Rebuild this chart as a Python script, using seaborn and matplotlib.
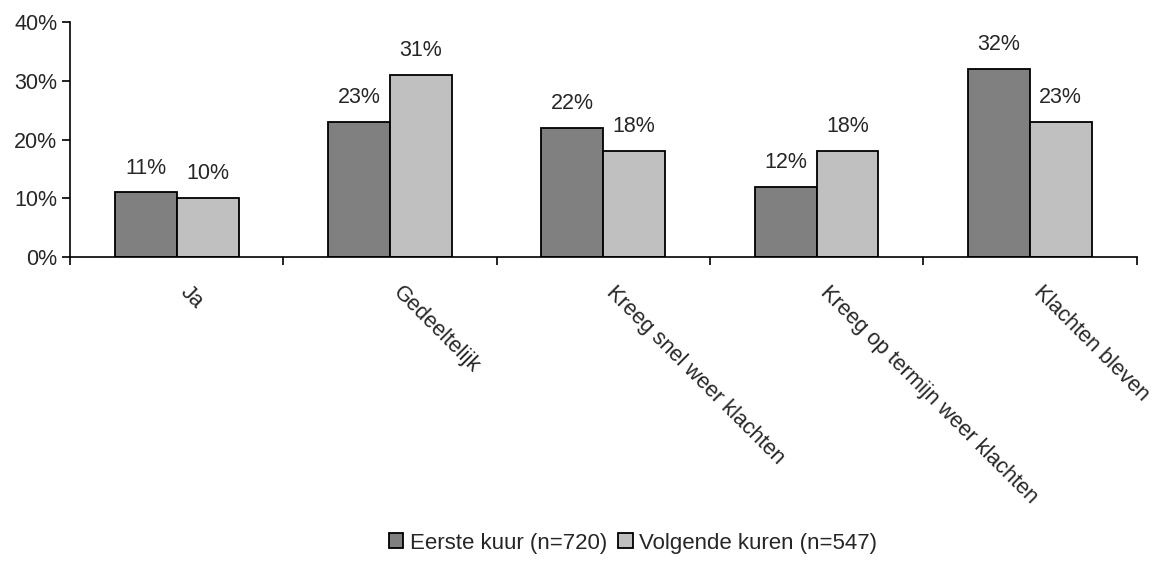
import matplotlib
matplotlib.use("Agg")
import matplotlib.pyplot as plt
import matplotlib.transforms as mtransforms
import seaborn as sns
import pandas as pd
from matplotlib.ticker import FuncFormatter, MultipleLocator

categories = ["Ja", "Gedeeltelijk", "Kreeg snel weer klachten",
              "Kreeg op termijn weer klachten", "Klachten bleven"]
series_names = ["Eerste kuur (n=720)", "Volgende kuren (n=547)"]
eerste_kuur = [11, 23, 22, 12, 32]
volgende_kuren = [10, 31, 18, 18, 23]

df = pd.DataFrame({
    "categorie": categories * 2,
    "reeks": [series_names[0]] * len(categories) + [series_names[1]] * len(categories),
    "waarde": eerste_kuur + volgende_kuren,
})

sns.set_style("white")
plt.rcParams["font.family"] = ["Liberation Sans", "DejaVu Sans"]
FS = 15.5

fig = plt.figure(figsize=(11.55, 5.67), dpi=100)
ax = fig.add_axes([0.0606, 0.5467, 0.9234, 0.4145])

palette = {series_names[0]: "#808080", series_names[1]: "#c0c0c0"}
sns.barplot(data=df, x="categorie", y="waarde", hue="reeks", order=categories,
            hue_order=series_names, palette=palette, width=0.58, gap=0,
            edgecolor="black", linewidth=1.3, saturation=1, ax=ax)

for container in ax.containers:
    ax.bar_label(container, labels=[f"{v:.0f}%" for v in container.datavalues],
                 padding=10, fontsize=FS)

ax.set_ylim(0, 40)
ax.set_xlim(-0.5, len(categories) - 0.5)
ax.yaxis.set_major_locator(MultipleLocator(10))
ax.yaxis.set_major_formatter(FuncFormatter(lambda v, p: f"{v:.0f}%"))
ax.set_xlabel("")
ax.set_ylabel("")

for s in ["top", "right"]:
    ax.spines[s].set_visible(False)
for s in ["left", "bottom"]:
    ax.spines[s].set_color("black")
    ax.spines[s].set_linewidth(1.2)

# category boundary ticks on x axis, labels centred in between
ax.set_xticks([i - 0.5 for i in range(len(categories) + 1)])
ax.set_xticklabels([])
ax.tick_params(axis="x", which="major", direction="out", length=6, width=1.2,
               color="black", bottom=True)
ax.set_xticks(range(len(categories)), minor=True)
ax.set_xticklabels(categories, minor=True, rotation=-45, ha="left", va="top",
                   rotation_mode="anchor", fontsize=15.6)
ax.tick_params(axis="x", which="minor", length=0, pad=18)
shift = mtransforms.ScaledTranslation(14 / 100, 0, fig.dpi_scale_trans)
for lbl in ax.get_xticklabels(minor=True):
    lbl.set_transform(lbl.get_transform() + shift)
ax.tick_params(axis="y", direction="out", length=6, width=1.2, color="black",
               left=True, labelsize=FS, pad=3)

handles, labels = ax.get_legend_handles_labels()
ax.legend_.remove()
fig.legend(handles, labels, loc="center", bbox_to_anchor=(0.548, 0.042), ncol=2,
           frameon=False, fontsize=16, handlelength=0.65, handleheight=0.65,
           handletextpad=0.3, columnspacing=0.5)

fig.savefig("out.png", dpi=100)
